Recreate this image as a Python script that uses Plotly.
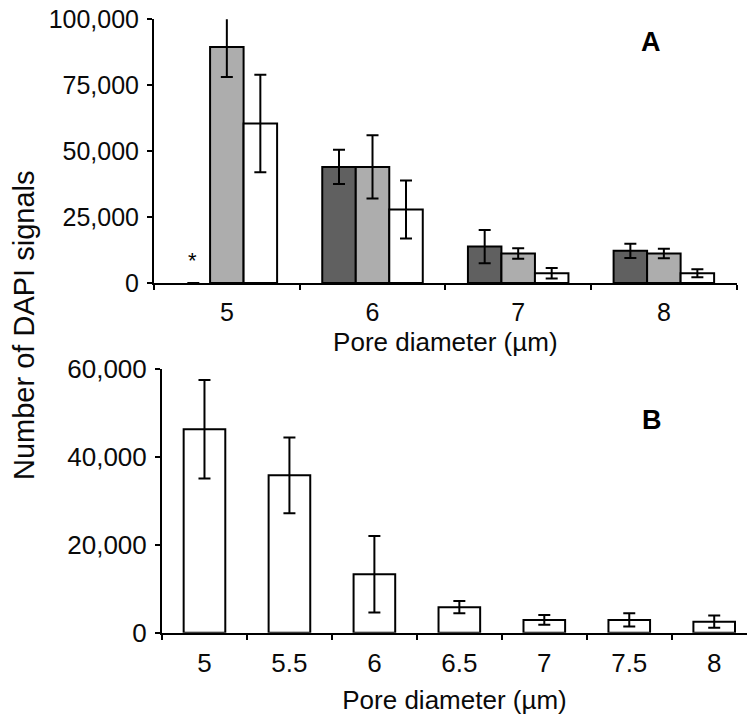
import plotly.graph_objects as go

# ---- Panel A data ----
a_cats = ["5", "6", "7", "8"]
a_dark = [0, 44000, 13800, 12200]
a_dark_err = [0, 6500, 6300, 2700]
a_gray = [89500, 44000, 11200, 11200]
a_gray_err = [11400, 12000, 2000, 1800]
a_white = [60500, 27900, 3700, 3700]
a_white_err = [18500, 11000, 2000, 1500]
a_yticks = [0, 25000, 50000, 75000, 100000]
a_yticktext = ["0", "25,000", "50,000", "75,000", "100,000"]
a_star_cat = "5"

# ---- Panel B data ----
b_cats = ["5", "5.5", "6", "6.5", "7", "7.5", "8"]
b_vals = [46300, 35800, 13300, 5800, 2900, 2900, 2500]
b_err = [11200, 8600, 8700, 1400, 1100, 1500, 1400]
b_yticks = [0, 20000, 40000, 60000]
b_yticktext = ["0", "20,000", "40,000", "60,000"]

FONT = "Liberation Sans, Arial, sans-serif"
W, H = 747, 718


def px_x(p):
    return p / W


def px_y(p):
    return 1 - p / H


def err(vals):
    return dict(type="data", array=vals, visible=True, color="black",
                thickness=2, width=6)


fig = go.Figure()
fig.add_trace(go.Bar(x=a_cats, y=a_dark, error_y=err(a_dark_err), cliponaxis=False,
                     marker=dict(color="#606060",
                                 line=dict(color="black",
                                           width=[0 if v == 0 else 2 for v in a_dark])),
                     xaxis="x", yaxis="y", showlegend=False))
fig.add_trace(go.Bar(x=a_cats, y=a_gray, error_y=err(a_gray_err), cliponaxis=False,
                     marker=dict(color="#adadad", line=dict(color="black", width=2)),
                     xaxis="x", yaxis="y", showlegend=False))
fig.add_trace(go.Bar(x=a_cats, y=a_white, error_y=err(a_white_err), cliponaxis=False,
                     marker=dict(color="white", line=dict(color="black", width=2)),
                     xaxis="x", yaxis="y", showlegend=False))
fig.add_trace(go.Bar(x=b_cats, y=b_vals, error_y=err(b_err), width=0.49, cliponaxis=False,
                     marker=dict(color="white", line=dict(color="black", width=2)),
                     xaxis="x2", yaxis="y2", showlegend=False))

axis_common = dict(showline=True, linecolor="black", linewidth=2,
                   ticks="outside", tickcolor="black", tickwidth=2, ticklen=5,
                   showgrid=False, zeroline=False, automargin=False,
                   ticklabeloverflow="allow")

# bottom x axis runs off the right edge of the window (boundary at 756.7 px)
b_range_end = len(b_cats) - 0.5 - (756.7 - W) / 85.0

fig.update_layout(
    width=W, height=H,
    margin=dict(l=0, r=0, t=0, b=0),
    paper_bgcolor="white", plot_bgcolor="white",
    barmode="group", bargap=0.31, bargroupgap=0,
    font=dict(family=FONT, color="#0a0a0a"),
    xaxis=dict(axis_common, domain=[px_x(154), px_x(736.7)], anchor="y",
               type="category", range=[-0.5, 3.5], tickson="boundaries",
               tickfont=dict(size=25), ticklabelstandoff=6,
               title=dict(text="Pore diameter (µm)", font=dict(size=26), standoff=8)),
    yaxis=dict(axis_common, domain=[px_y(283), px_y(19.3)], anchor="x",
               range=[0, 100000], tickvals=a_yticks, ticktext=a_yticktext,
               tickfont=dict(size=25), ticklabelstandoff=3),
    xaxis2=dict(axis_common, domain=[px_x(162), 1.0], anchor="y2",
                type="category", range=[-0.5, b_range_end], tickson="boundaries",
                tickfont=dict(size=26), ticklabelstandoff=6,
                title=dict(text="Pore diameter (µm)", font=dict(size=26), standoff=14)),
    yaxis2=dict(axis_common, domain=[px_y(632.7), px_y(369)], anchor="x2",
                range=[0, 60000], tickvals=b_yticks, ticktext=b_yticktext,
                tickfont=dict(size=26), ticklabelstandoff=3),
)

fig.add_annotation(text="Number of DAPI signals", xref="paper", yref="paper",
                   x=px_x(24), y=px_y(326), textangle=-90, showarrow=False,
                   font=dict(size=29, family=FONT, color="#0a0a0a"),
                   xanchor="center", yanchor="middle")
fig.add_annotation(text="<b>A</b>", xref="paper", yref="paper",
                   x=px_x(651), y=px_y(42), showarrow=False,
                   font=dict(size=27, family=FONT, color="black"),
                   xanchor="center", yanchor="middle")
fig.add_annotation(text="<b>B</b>", xref="paper", yref="paper",
                   x=px_x(652), y=px_y(420), showarrow=False,
                   font=dict(size=27, family=FONT, color="black"),
                   xanchor="center", yanchor="middle")
fig.add_annotation(text="*", xref="x", yref="y", x=a_cats.index(a_star_cat), y=0,
                   xshift=-34, yshift=8,
                   showarrow=False, font=dict(size=22, family=FONT, color="black"),
                   xanchor="center", yanchor="bottom")

fig.write_html("out.html",
               config={"displayModeBar": False},
               post_script="document.body.style.margin='0';"
                           "document.documentElement.style.overflow='hidden';")
